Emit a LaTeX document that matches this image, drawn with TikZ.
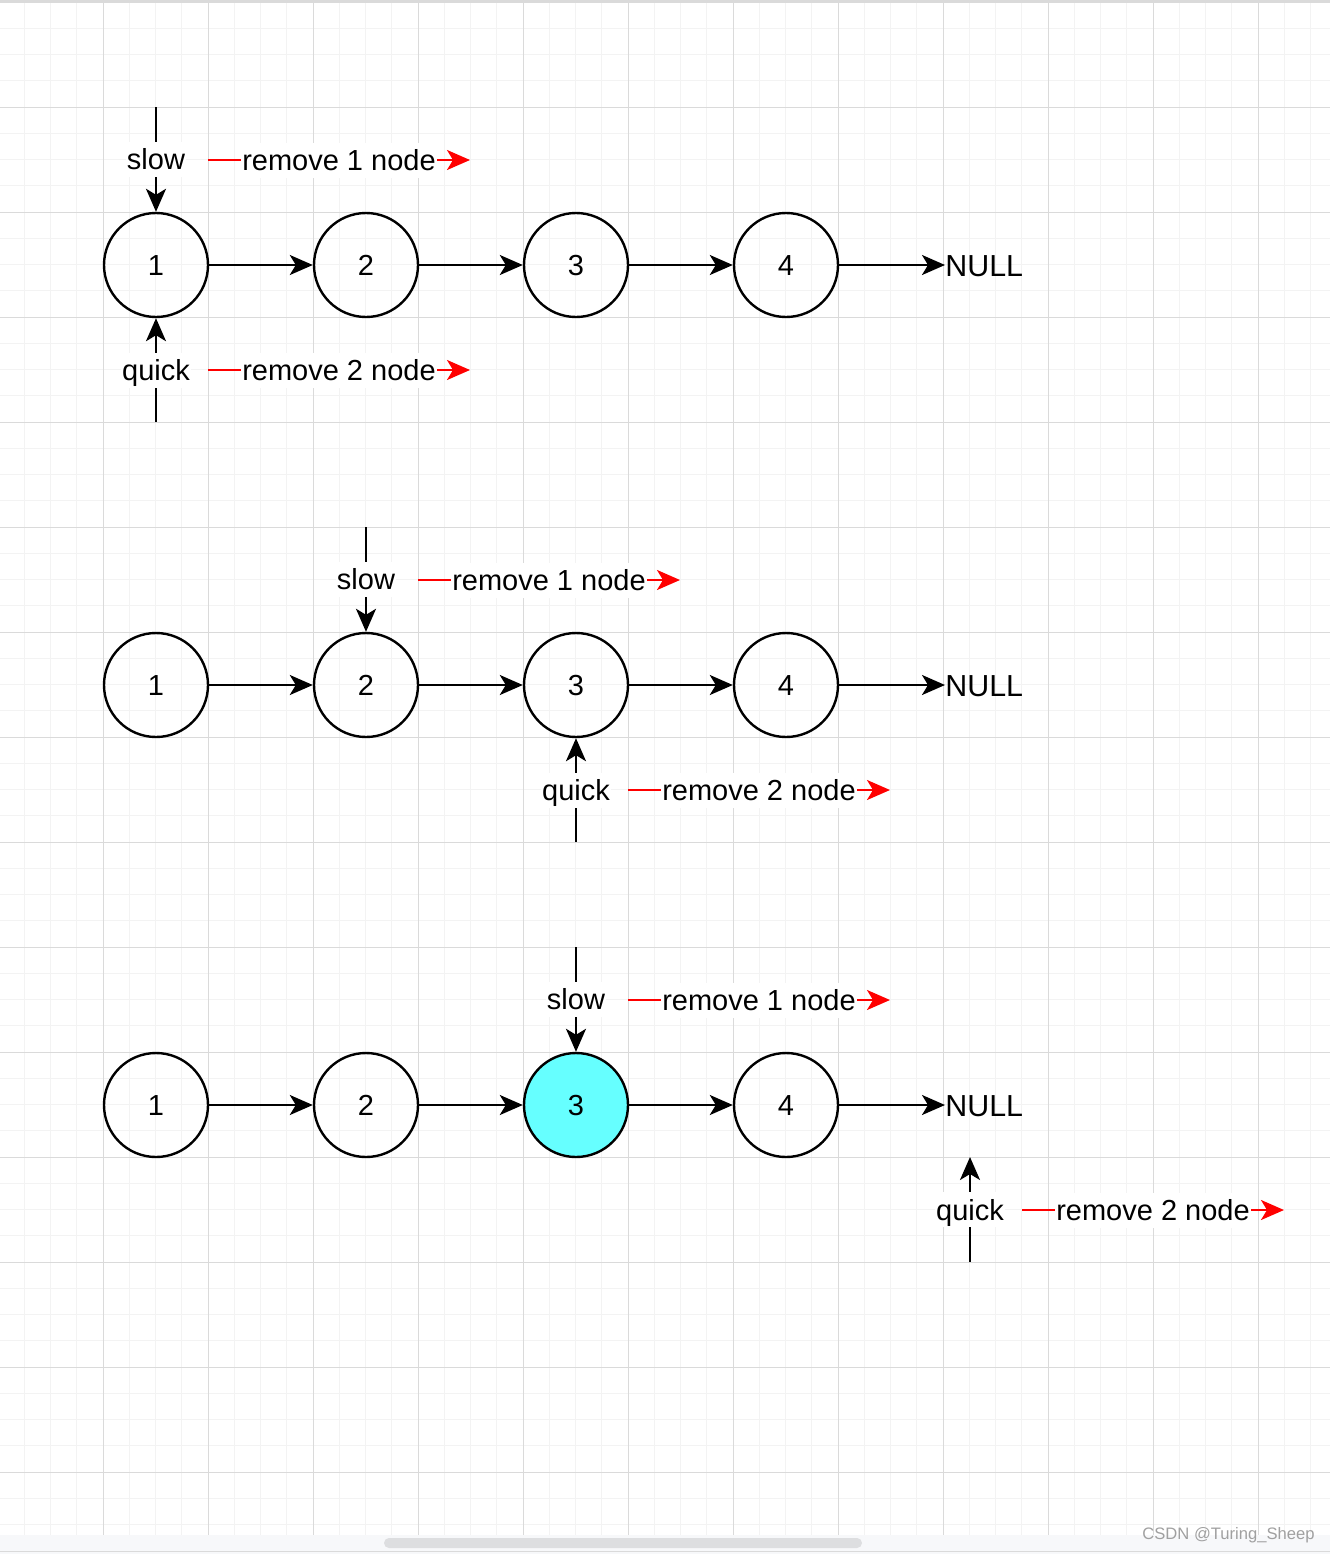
\documentclass[tikz,border=0pt]{standalone}
\usepackage{fontspec}
\setmainfont{Liberation Sans}
\usetikzlibrary{arrows.meta}
\definecolor{gminor}{HTML}{F3F3F3}
\definecolor{gmajor}{HTML}{DADADA}
\definecolor{cyanfill}{HTML}{66FFFF}
\definecolor{barbg}{HTML}{F7F8FA}
\definecolor{thumb}{HTML}{DDDEE0}
\definecolor{wmark}{HTML}{A0A0A0}
\begin{document}
\begin{tikzpicture}[x=0.5pt,y=-0.5pt,
  lnode/.style={draw, circle, line width=1.2pt, minimum size=52pt, inner sep=0pt,
    text height=10.5pt, text depth=0pt, font=\fontsize{14.5}{16}\selectfont},
  lab/.style={fill=white, inner xsep=0.5pt, inner ysep=1pt, text height=13pt, text depth=2.5pt,
    font=\fontsize{14.5}{16}\selectfont},
  redlab/.style={lab, text=black},
  blk/.style={line width=1.2pt, -{Stealth[length=11.5pt,width=10pt,inset=3pt]}},
  redarr/.style={line width=1.2pt, red, -{Stealth[length=11.5pt,width=10pt,inset=3pt]}},
  nulltxt/.style={anchor=west, inner sep=0pt, text height=10.5pt, text depth=0pt,
    font=\fontsize{15.2}{17}\selectfont}]
\useasboundingbox (0,0) rectangle (1330,1554);
\fill[white] (0,0) rectangle (1330,1554);
% grid
\foreach \i in {0,...,51} {
  \draw[gminor, line width=0.5pt] (-2+26.25*\i,0) -- (-2+26.25*\i,1535);
}
\foreach \j in {0,...,58} {
  \draw[gminor, line width=0.5pt] (0,2+26.25*\j) -- (1330,2+26.25*\j);
}
\foreach \i in {0,...,12} {
  \draw[gmajor, line width=0.5pt] (103+105*\i,0) -- (103+105*\i,1535);
}
\foreach \j in {0,...,14} {
  \draw[gmajor, line width=0.5pt] (0,2+105*\j) -- (1330,2+105*\j);
}
\draw[gmajor, line width=1pt] (0,1) -- (1330,1);
% bottom bar
\fill[barbg] (0,1535) rectangle (1330,1554);
\fill[thumb, rounded corners=2.5pt] (384,1538) rectangle (862,1548);
\draw[gmajor, line width=0.5pt] (0,1551) -- (1330,1551);
\node[wmark, font=\fontsize{8.3}{9}\selectfont, anchor=east, inner sep=0pt] (wm) at (1315,1535) {CSDN @Turing\_Sheep};

% ---------- row 1 ----------
\node[lnode] (a1) at (156,265) {1};
\node[lnode] (a2) at (366,265) {2};
\node[lnode] (a3) at (576,265) {3};
\node[lnode] (a4) at (786,265) {4};
\node[nulltxt] (an) at (945,266) {NULL};
\draw[blk] (a1) -- (a2);
\draw[blk] (a2) -- (a3);
\draw[blk] (a3) -- (a4);
\draw[blk] (a4) -- (an.west |- a4);
\coordinate (as) at (156,107);
\coordinate (aq) at (156,422);
\draw[blk] (as) -- (a1) node[lab, midway] (asl) {slow};
\draw[blk] (aq) -- (a1) node[lab, midway] (aql) {quick};
\coordinate (ar1s) at (208,160);
\coordinate (ar1e) at (470,160);
\draw[redarr] (ar1s) -- (ar1e) node[redlab, midway] (ar1l) {remove 1 node};
\coordinate (ar2s) at (208,370);
\coordinate (ar2e) at (470,370);
\draw[redarr] (ar2s) -- (ar2e) node[redlab, midway] (ar2l) {remove 2 node};

% ---------- row 2 ----------
\node[lnode] (b1) at (156,685) {1};
\node[lnode] (b2) at (366,685) {2};
\node[lnode] (b3) at (576,685) {3};
\node[lnode] (b4) at (786,685) {4};
\node[nulltxt] (bn) at (945,686) {NULL};
\draw[blk] (b1) -- (b2);
\draw[blk] (b2) -- (b3);
\draw[blk] (b3) -- (b4);
\draw[blk] (b4) -- (bn.west |- b4);
\coordinate (bs) at (366,527);
\coordinate (bq) at (576,842);
\draw[blk] (bs) -- (b2) node[lab, midway] (bsl) {slow};
\draw[blk] (bq) -- (b3) node[lab, midway] (bql) {quick};
\coordinate (br1s) at (418,580);
\coordinate (br1e) at (680,580);
\draw[redarr] (br1s) -- (br1e) node[redlab, midway] (br1l) {remove 1 node};
\coordinate (br2s) at (628,790);
\coordinate (br2e) at (890,790);
\draw[redarr] (br2s) -- (br2e) node[redlab, midway] (br2l) {remove 2 node};

% ---------- row 3 ----------
\node[lnode] (c1) at (156,1105) {1};
\node[lnode] (c2) at (366,1105) {2};
\node[lnode, fill=cyanfill] (c3) at (576,1105) {3};
\node[lnode] (c4) at (786,1105) {4};
\node[nulltxt] (cn) at (945,1106) {NULL};
\draw[blk] (c1) -- (c2);
\draw[blk] (c2) -- (c3);
\draw[blk] (c3) -- (c4);
\draw[blk] (c4) -- (cn.west |- c4);
\coordinate (cs) at (576,947);
\draw[blk] (cs) -- (c3) node[lab, midway] (csl) {slow};
\coordinate (cqs) at (970,1262);
\coordinate (cqe) at (970,1157);
\draw[blk] (cqs) -- (cqe) node[lab, midway] (cql) {quick};
\coordinate (cr1s) at (628,1000);
\coordinate (cr1e) at (890,1000);
\draw[redarr] (cr1s) -- (cr1e) node[redlab, midway] (cr1l) {remove 1 node};
\coordinate (cr2s) at (1022,1210);
\coordinate (cr2e) at (1284,1210);
\draw[redarr] (cr2s) -- (cr2e) node[redlab, midway] (cr2l) {remove 2 node};
\end{tikzpicture}
\end{document}
